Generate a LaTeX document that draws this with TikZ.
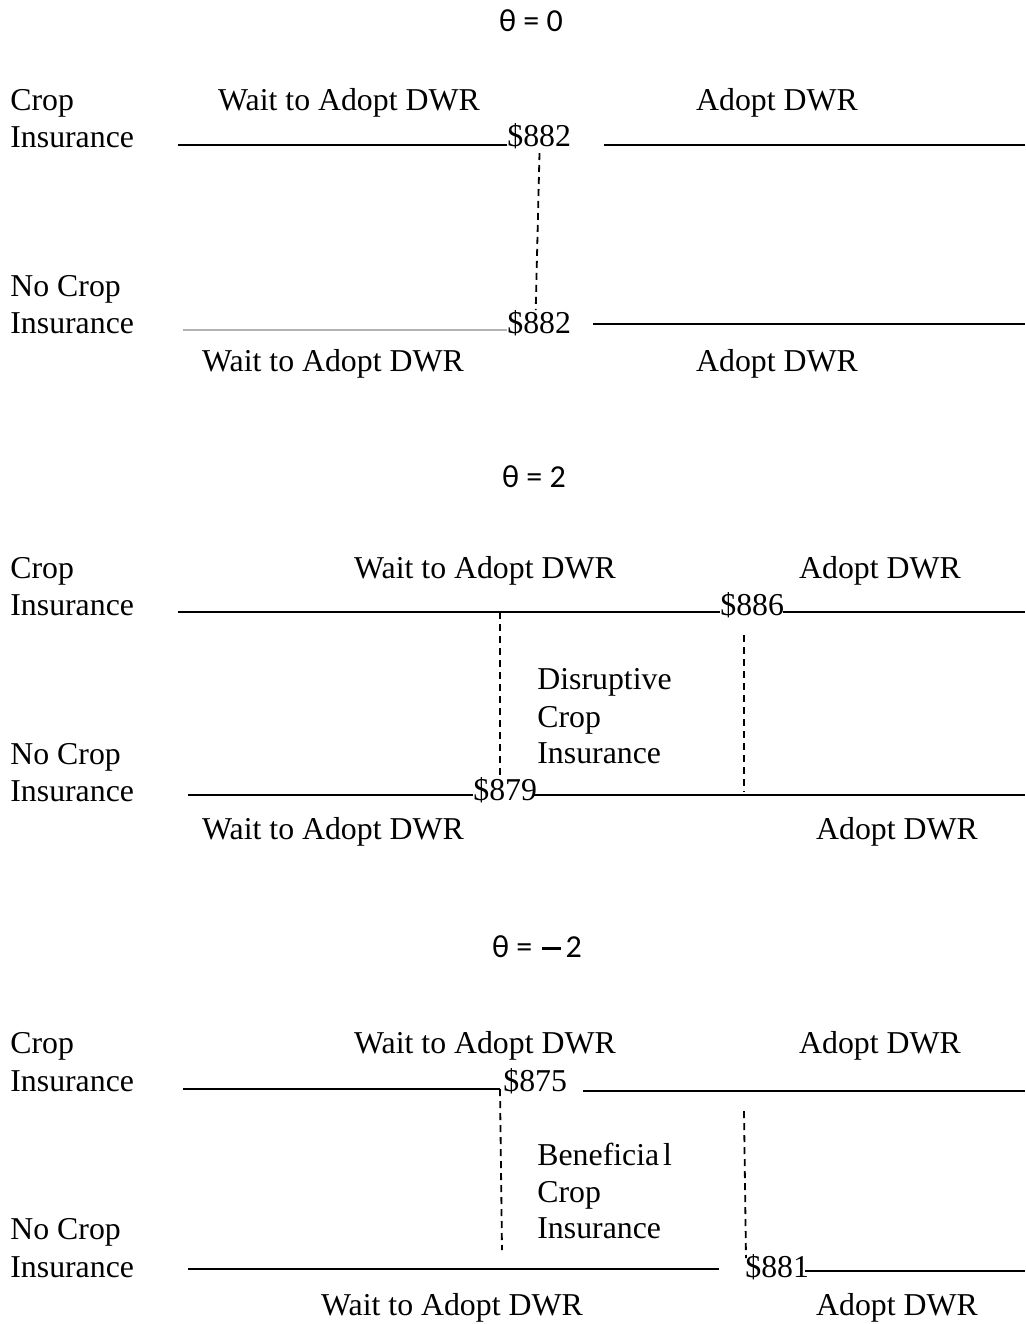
\documentclass[tikz,border=0pt]{standalone}
\usepackage{fontspec}
\setmainfont{Liberation Serif}
\newfontfamily\thetafont{Carlito}

\begin{document}
\begin{tikzpicture}[x=0.5pt,y=-0.5pt]
\tikzset{lbl/.style = {anchor=base west,inner sep=0pt,font=\fontsize{15.9}{18}\selectfont},
  mid/.style = {anchor=base,inner sep=0pt,font=\fontsize{15.9}{18}\selectfont},
  ttl/.style = {anchor=base,inner sep=0pt,font=\thetafont\fontsize{16}{18}\selectfont},
  bar/.style = {line width=1pt},
  gap/.style = {dash pattern=on 3.5pt off 2.5pt,line width=0.9pt}}
\useasboundingbox (0,0) rectangle (1025,1324);

% theta = 0
\node[ttl] (th0) at (531,31) {θ = 0};
\node[lbl] (crop0) at (10,110) {Crop};
\node[lbl] (ins0) at (10,147) {Insurance};
\node[mid] (wait0) at (349,110) {Wait to Adopt DWR};
\node[mid] (adopt0) at (777,110) {Adopt DWR};
\node[lbl] (val0a) at (507,146) {\$882};
\coordinate (a0) at (178,145); \coordinate (b0) at (507,145);
\coordinate (c0) at (604,145); \coordinate (d0) at (1025,145);
\draw[bar] (a0) -- (b0); \draw[bar] (c0) -- (d0);
\node[lbl] (nocrop0) at (10,296) {No Crop};
\node[lbl] (noins0) at (10,333) {Insurance};
\node[lbl] (val0b) at (507,333) {\$882};
\coordinate (e0) at (183,330); \coordinate (f0) at (507,330);
\coordinate (g0) at (593,324); \coordinate (h0) at (1025,324);
\draw[bar,gray!60] (e0) -- (f0); \draw[bar] (g0) -- (h0);
\coordinate (s0) at (539.5,153); \coordinate (t0) at (535.7,310);
\draw[gap] (s0) -- (t0);
\node[mid] (waitb0) at (333,371) {Wait to Adopt DWR};
\node[mid] (adoptb0) at (777,371) {Adopt DWR};

% theta = 2
\node[ttl] (th2) at (534,487) {θ = 2};
\node[lbl] (crop2) at (10,578) {Crop};
\node[lbl] (ins2) at (10,615) {Insurance};
\node[mid] (wait2) at (485,578) {Wait to Adopt DWR};
\node[mid] (adopt2) at (880,578) {Adopt DWR};
\node[lbl] (val2a) at (720,615) {\$886};
\coordinate (a2) at (178,612); \coordinate (b2) at (720,612);
\coordinate (c2) at (783,612); \coordinate (d2) at (1025,612);
\draw[bar] (a2) -- (b2); \draw[bar] (c2) -- (d2);
\node[lbl] (dis1) at (537,689) {Disruptive};
\node[lbl] (dis2) at (537,727) {Crop};
\node[lbl] (dis3) at (537,763) {Insurance};
\node[lbl] (nocrop2) at (10,764) {No Crop};
\node[lbl] (noins2) at (10,801) {Insurance};
\node[lbl] (val2b) at (473,800) {\$879};
\coordinate (e2) at (188,795); \coordinate (f2) at (473,795);
\coordinate (g2) at (534,795); \coordinate (h2) at (1025,795);
\draw[bar] (e2) -- (f2); \draw[bar] (g2) -- (h2);
\coordinate (s2) at (500,612); \coordinate (t2) at (500,775);
\coordinate (u2) at (744,635); \coordinate (v2) at (744,792);
\draw[gap] (s2) -- (t2); \draw[gap] (u2) -- (v2);
\node[mid] (waitb2) at (333,839) {Wait to Adopt DWR};
\node[mid] (adoptb2) at (897,839) {Adopt DWR};

% theta = -2
\node[ttl] (thm2) at (537,957) {θ = \kern1pt\rule[0.23em]{0.6em}{0.07em}\kern2.5pt 2};
\node[lbl] (cropm) at (10,1053) {Crop};
\node[lbl] (insm) at (10,1091) {Insurance};
\node[mid] (waitm) at (485,1053) {Wait to Adopt DWR};
\node[mid] (adoptm) at (880,1053) {Adopt DWR};
\node[lbl] (valma) at (503,1091) {\$875};
\coordinate (am) at (183,1089); \coordinate (bm) at (500,1089);
\coordinate (cm) at (583,1091); \coordinate (dm) at (1025,1091);
\draw[bar] (am) -- (bm); \draw[bar] (cm) -- (dm);
\node[lbl] (ben1) at (537,1165) {Beneficia\kern2pt l};
\node[lbl] (ben2) at (537,1202) {Crop};
\node[lbl] (ben3) at (537,1238) {Insurance};
\node[lbl] (nocropm) at (10,1239) {No Crop};
\node[lbl] (noinsm) at (10,1277) {Insurance};
\node[lbl] (valmb) at (745,1277) {\$881};
\coordinate (em) at (188,1269); \coordinate (fm) at (719,1269);
\coordinate (gm) at (805,1271); \coordinate (hm) at (1025,1271);
\draw[bar] (em) -- (fm); \draw[bar] (gm) -- (hm);
\coordinate (sm) at (500,1089); \coordinate (tm) at (502,1250);
\coordinate (um) at (744,1111); \coordinate (vm) at (746,1258);
\draw[gap] (sm) -- (tm); \draw[gap] (um) -- (vm);
\node[mid] (waitbm) at (452,1315) {Wait to Adopt DWR};
\node[mid] (adoptbm) at (897,1315) {Adopt DWR};
\end{tikzpicture}
\end{document}
